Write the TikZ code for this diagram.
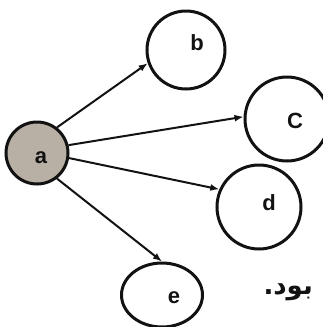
\documentclass[tikz,border=0pt]{standalone}
\usepackage{fontspec}
\setmainfont{Liberation Sans}
\newfontfamily\arabicfont[Script=Arabic]{DejaVu Sans}
\TeXXeTstate=1
\usetikzlibrary{arrows.meta,shapes.geometric}
\definecolor{nodefill}{RGB}{184,176,164}
\definecolor{ink}{RGB}{18,18,18}
\begin{document}
\begin{tikzpicture}[x=1pt,y=-1pt,
  vertex/.style={circle, draw=ink, line width=3pt, minimum size=#1, inner sep=0pt},
  lbl/.style={font=\bfseries\fontsize{22}{22}\selectfont, text=ink, anchor=base, inner sep=0pt},
  edge/.style={draw=ink, line width=2pt, -{Latex[length=9pt,width=7pt]}}]
\useasboundingbox (0,0) rectangle (323,327);
\node[vertex=62pt, fill=nodefill] (a) at (37,153) {};
\node[vertex=78pt] (b) at (186,50) {};
\node[vertex=84pt] (c) at (287,119) {};
\node[vertex=84pt] (d) at (259,207) {};
\node[ellipse, draw=ink, line width=3pt, minimum width=81pt, minimum height=64pt, inner sep=0pt] (e) at (162,295) {};
\node[lbl] (la) at (41,163) {a};
\node[lbl] (lb) at (197,50) {b};
\node[lbl] (lc) at (295,128) {C};
\node[lbl] (ld) at (269,210) {d};
\node[lbl] (le) at (174,303) {e};
\draw[edge] (a.52) -- (b.199);
\draw[edge] (a.14) -- (c.177);
\draw[edge] (a.-9) -- (d.156);
\draw[edge] (a.-52) -- (e.north);
\node[font=\arabicfont\bfseries\fontsize{26}{26}\selectfont, text=ink, anchor=base east, inner sep=0pt] (t) at (313,294) {\beginR بود.\endR};
\end{tikzpicture}
\end{document}
